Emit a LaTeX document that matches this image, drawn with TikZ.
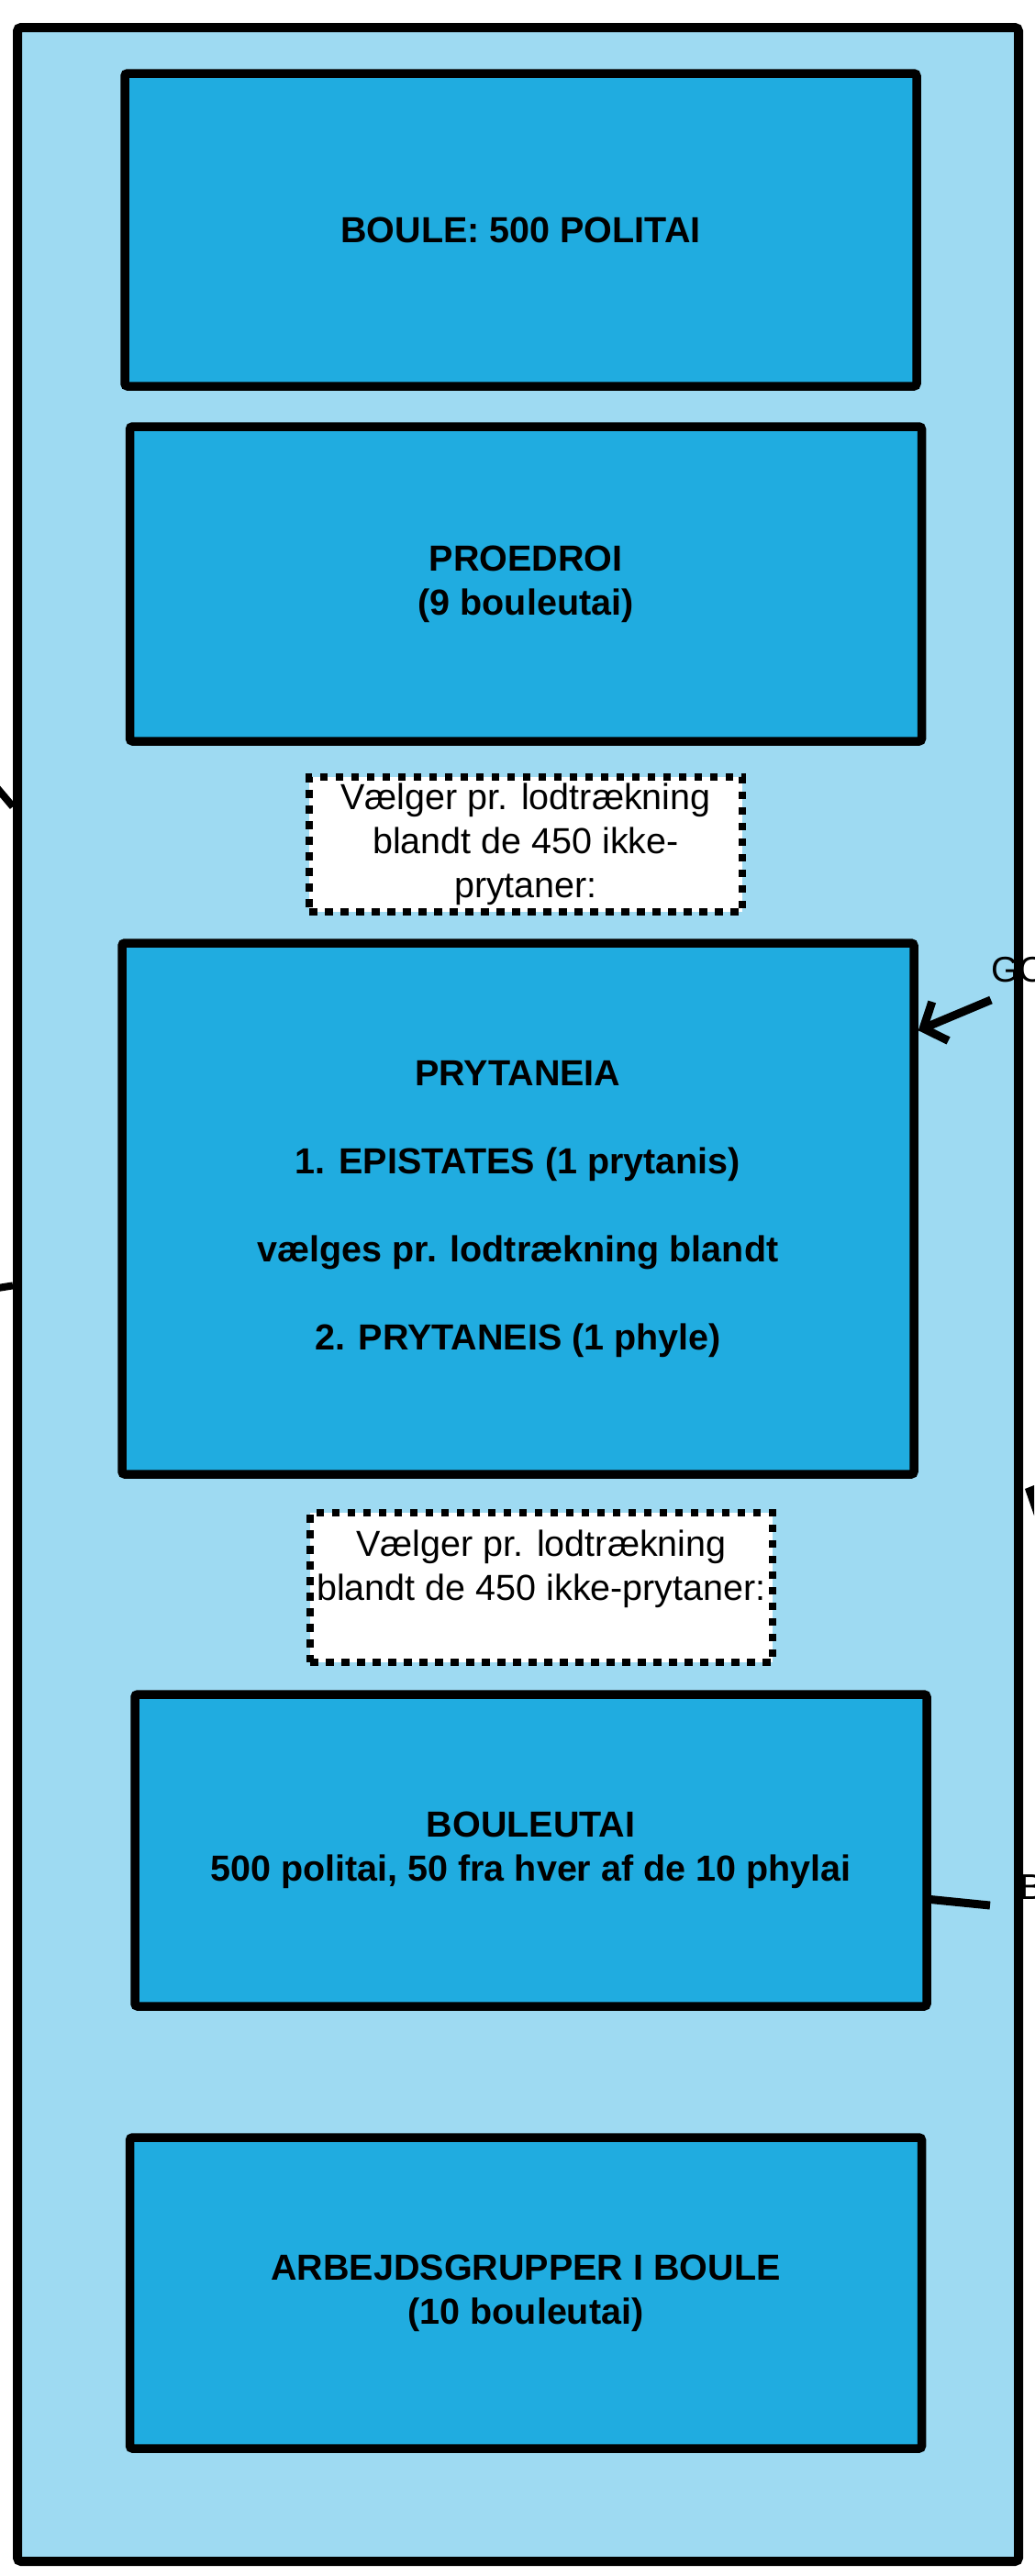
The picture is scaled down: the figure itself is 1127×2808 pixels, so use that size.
\documentclass[tikz,border=0pt]{standalone}
\usepackage{fontspec}
\setmainfont{Liberation Sans}
\usetikzlibrary{arrows.meta}
\definecolor{bouleblue}{RGB}{158,218,242}
\definecolor{organblue}{RGB}{32,172,224}
\begin{document}
\begin{tikzpicture}[x=1pt,y=-1pt,
  panel/.style={draw,line width=10pt,rounded corners=4pt,fill=bouleblue,inner sep=0pt},
  organ/.style={draw,line width=9.5pt,rounded corners=3pt,fill=organblue,inner sep=0pt,
    minimum width=863pt,minimum height=341pt,align=center,
    font=\fontsize{39.5}{48}\selectfont\bfseries},
  lotnote/.style={draw,line width=8.5pt,dash pattern=on 8.5pt off 8.5pt,fill=white,inner sep=0pt,
    align=center,font=\fontsize{39.5}{48}\selectfont},
  sidetext/.style={inner sep=0pt,font=\fontsize{39}{48}\selectfont},
  link/.style={line width=9pt}]
\useasboundingbox (0,0) rectangle (1127,2808);
\clip (0,0) rectangle (1127,2808);
\node[panel,minimum width=1091pt,minimum height=2762pt] (boule) at (564.5,1411) {};
\node[organ] (politai) at (567.5,250.5) {BOULE: 500 POLITAI};
\node[organ,minimum height=343pt] (proedroi) at (573,636.5) {PROEDROI\\(9 bouleutai)};
\node[lotnote,minimum width=472pt,minimum height=147pt] (lot1) at (573,920.5)
  {Vælger pr. lodtrækning\\blandt de 450 ikke-\\prytaner:};
\node[organ,minimum height=579pt] (prytaneia) at (564.5,1317.5)
  {PRYTANEIA\\[48pt]1. EPISTATES (1 prytanis)\\[48pt]vælges pr. lodtrækning blandt\\[48pt]2. PRYTANEIS (1 phyle)};
\node[lotnote,minimum width=504pt,minimum height=163pt] (lot2) at (590,1730.5)
  {Vælger pr. lodtrækning\\blandt de 450 ikke-prytaner:\\\mbox{}};
\node[organ,minimum height=340pt] (bouleutai) at (578.5,2017)
  {BOULEUTAI\\500 politai, 50 fra hver af de 10 phylai};
\node[organ,minimum height=339pt] (arbejd) at (573,2499.5)
  {ARBEJDSGRUPPER I BOULE\\(10 bouleutai)};
\node[sidetext,anchor=base west] (golabel) at (1080,1070) {GO};
\node[sidetext,anchor=base west] (blabel) at (1111,2070) {B};
\coordinate (gotail) at (1080,1090);
\coordinate (btail) at (1079,2077);
\coordinate (westA) at (-15,845);
\coordinate (westB) at (-15,1406);
\draw[link,-{Straight Barb[length=20pt,width=46pt]}] (gotail) -- (prytaneia.24);
\draw[link] (bouleutai.-7) -- (btail);
\draw[link,line width=8pt] (westA) -- (boule.136);
\draw[link,line width=8pt] (westB) -- (boule.179);
\fill (1117,1623) -- (1127,1619) -- (1127,1652) -- cycle;
\end{tikzpicture}
\end{document}
